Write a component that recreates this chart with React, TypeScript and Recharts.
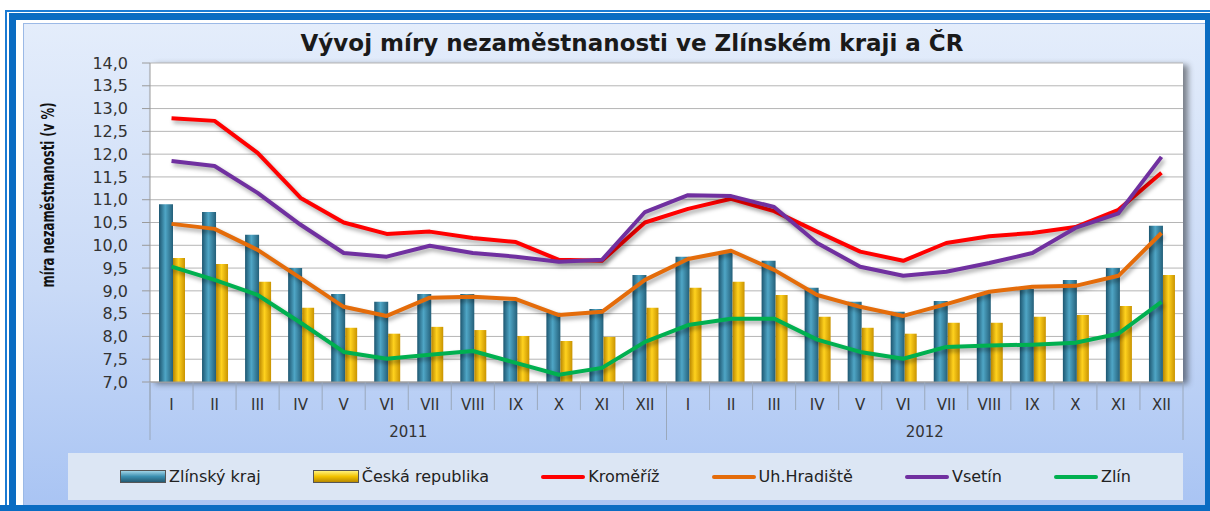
import React from "react";
import {
  ComposedChart,
  Bar,
  Line,
  XAxis,
  YAxis,
  CartesianGrid,
} from "recharts";

const months = ["I", "II", "III", "IV", "V", "VI", "VII", "VIII", "IX", "X", "XI", "XII"];
const years = ["2011", "2012"];
const yTicks = [7.0, 7.5, 8.0, 8.5, 9.0, 9.5, 10.0, 10.5, 11.0, 11.5, 12.0, 12.5, 13.0, 13.5, 14.0];

const zlinskyKraj = [
  10.9, 10.73, 10.23, 9.5, 8.93, 8.76, 8.93, 8.93, 8.78, 8.52, 8.6, 9.35,
  9.75, 9.83, 9.66, 9.07, 8.76, 8.54, 8.78, 8.95, 9.04, 9.24, 9.5, 10.43,
];
const ceskaRepublika = [
  9.72, 9.59, 9.2, 8.63, 8.19, 8.06, 8.21, 8.14, 8.01, 7.9, 7.99, 8.63,
  9.07, 9.2, 8.91, 8.43, 8.19, 8.06, 8.3, 8.3, 8.43, 8.47, 8.67, 9.35,
];
const kromeriz = [
  12.79, 12.73, 12.03, 11.04, 10.5, 10.25, 10.3, 10.16, 10.07, 9.68, 9.66, 10.5,
  10.8, 11.02, 10.75, 10.3, 9.86, 9.66, 10.05, 10.2, 10.27, 10.4, 10.78, 11.59,
];
const uhHradiste = [
  10.47, 10.36, 9.9, 9.28, 8.65, 8.45, 8.85, 8.87, 8.82, 8.47, 8.54, 9.24,
  9.7, 9.88, 9.46, 8.91, 8.65, 8.45, 8.71, 8.98, 9.09, 9.11, 9.33, 10.27,
];
const vsetin = [
  11.85, 11.74, 11.15, 10.45, 9.83, 9.75, 9.99, 9.83, 9.75, 9.64, 9.68, 10.73,
  11.1, 11.08, 10.84, 10.05, 9.53, 9.33, 9.42, 9.61, 9.83, 10.38, 10.7, 11.94,
];
const zlin = [
  9.53, 9.24, 8.91, 8.3, 7.66, 7.51, 7.6, 7.68, 7.42, 7.16, 7.31, 7.88,
  8.25, 8.39, 8.39, 7.93, 7.66, 7.51, 7.77, 7.8, 7.82, 7.86, 8.06, 8.76,
];

const data = years.flatMap((year, yi) =>
  months.map((month, mi) => {
    const i = yi * 12 + mi;
    return {
      key: `${year}-${month}`,
      month,
      year,
      zk: zlinskyKraj[i],
      cr: ceskaRepublika[i],
      km: kromeriz[i],
      uh: uhHradiste[i],
      vs: vsetin[i],
      zl: zlin[i],
    };
  })
);

const PLOT_LEFT = 150;
const PLOT_TOP = 63;
const PLOT_W = 1033;
const PLOT_H = 319;
const BAND = PLOT_W / 24;
const FONT = "'DejaVu Sans', Verdana, sans-serif";

const MonthTick = (props: any) => {
  const { x, y, payload, index } = props;
  return (
    <g>
      <line x1={x - BAND / 2} y1={y} x2={x - BAND / 2} y2={y + 28} stroke="#9aa8bb" />
      {index === 23 && (
        <line x1={x + BAND / 2} y1={y} x2={x + BAND / 2} y2={y + 58} stroke="#9aa8bb" />
      )}
      <text x={x} y={y + 28} textAnchor="middle" fontSize={15} fill="#333" fontFamily={FONT}>
        {payload.value}
      </text>
    </g>
  );
};

const YearTick = (props: any) => {
  const { x, y, payload } = props;
  const half = PLOT_W / 4;
  return (
    <g>
      <line x1={x - half} y1={y - 30} x2={x - half} y2={y + 28} stroke="#9aa8bb" />
      <text x={x} y={y + 25} textAnchor="middle" fontSize={15} fill="#333" fontFamily={FONT}>
        {payload.value}
      </text>
    </g>
  );
};

const legendItems = [
  { label: "Zlínský kraj", type: "bar", grad: "linear-gradient(#9fd3e6, #3b8fb0 50%, #245a72)" },
  { label: "Česká republika", type: "bar", grad: "linear-gradient(#fff27a, #f2c200 50%, #b88a00)" },
  { label: "Kroměříž", type: "line", color: "#ff0000" },
  { label: "Uh.Hradiště", type: "line", color: "#e46c0a" },
  { label: "Vsetín", type: "line", color: "#7030a0" },
  { label: "Zlín", type: "line", color: "#00b050" },
];

export default function App() {
  return (
    <div style={{ position: "absolute", left: 0, top: 0, width: 1210, height: 511, background: "#fff", overflow: "hidden" }}>
      <style>{`.recharts-line-curve { filter: drop-shadow(2px 3px 2px rgba(0,0,0,0.35)); }`}</style>
      {/* frame */}
      <div style={{ position: "absolute", left: 5, top: 10, width: 1210, height: 510, borderTop: "2px solid #1b7bd3", borderLeft: "2px solid #1b7bd3" }} />
      <div style={{ position: "absolute", left: 9, top: 13, width: 1210, height: 510, borderTop: "7px solid #0a6cc2", borderLeft: "7px solid #0a6cc2" }} />
      <div
        style={{
          position: "absolute",
          left: 23,
          top: 23,
          width: 1181,
          height: 481,
          border: "1px solid #9bb9e6",
          background: "linear-gradient(#e4edfb, #c9daf7 55%, #a9c4f3)",
        }}
      />
      <div style={{ position: "absolute", left: 0, top: 505, width: 1210, height: 6, background: "#0a6cc2" }} />
      <div style={{ position: "absolute", left: 1205, top: 20, width: 5, height: 491, background: "#0a6cc2" }} />
      {/* plot background */}
      <div
        style={{
          position: "absolute",
          left: PLOT_LEFT,
          top: PLOT_TOP,
          width: PLOT_W,
          height: PLOT_H,
          background: "#fff",
          boxShadow: "5px 2px 6px rgba(0,0,0,0.45)",
        }}
      />
      {/* title */}
      <div
        style={{
          position: "absolute",
          left: 0,
          width: 1264,
          top: 30,
          textAlign: "center",
          fontFamily: FONT,
          fontWeight: "bold",
          fontSize: 23,
          color: "#1a1a1a",
        }}
      >
        Vývoj míry nezaměstnanosti ve Zlínském kraji a ČR
      </div>
      {/* y axis title */}
      <svg style={{ position: "absolute", left: 20, top: 65, width: 60, height: 260, overflow: "visible" }}>
        <text
          transform="translate(34,130) rotate(-90)"
          textAnchor="middle"
          textLength={185}
          lengthAdjust="spacingAndGlyphs"
          fontFamily={FONT}
          fontWeight="bold"
          fontSize={17}
          fill="#111"
        >
          míra nezaměstnanosti (v %)
        </text>
      </svg>
      <div style={{ position: "absolute", left: 0, top: 0 }}>
        <ComposedChart
          width={1210}
          height={511}
          data={data}
          margin={{ top: PLOT_TOP, right: 1210 - PLOT_LEFT - PLOT_W, left: PLOT_LEFT - 60, bottom: 71 }}
          barGap={0}
        >
          <defs>
            <linearGradient id="gTeal" x1="0" y1="0" x2="1" y2="0">
              <stop offset="0%" stopColor="#1d5670" />
              <stop offset="45%" stopColor="#4fa6c6" />
              <stop offset="100%" stopColor="#245f79" />
            </linearGradient>
            <linearGradient id="gYellow" x1="0" y1="0" x2="1" y2="0">
              <stop offset="0%" stopColor="#b88500" />
              <stop offset="45%" stopColor="#ffd21e" />
              <stop offset="100%" stopColor="#c99300" />
            </linearGradient>
          </defs>
          <CartesianGrid vertical={false} stroke="#b5b5b5" />
          <XAxis
            dataKey="key"
            xAxisId={0}
            height={30}
            tickSize={0}
            tickMargin={0}
            interval={0}
            axisLine={{ stroke: "#9a9a9a" }}
            tickLine={false}
            tick={(p: any) => <MonthTick {...p} payload={{ ...p.payload, value: data[p.index]?.month }} />}
          />
          <XAxis
            dataKey="year"
            xAxisId="year"
            allowDuplicatedCategory={false}
            height={28}
            tickSize={0}
            tickMargin={0}
            interval={0}
            axisLine={false}
            tickLine={false}
            tick={<YearTick />}
          />
          <YAxis
            width={60}
            domain={[7, 14]}
            ticks={yTicks}
            interval={0}
            tickSize={8}
            tickMargin={14}
            axisLine={{ stroke: "#9a9a9a" }}
            tickLine={{ stroke: "#9a9a9a" }}
            tick={{ fontSize: 16, fill: "#333", fontFamily: FONT }}
            tickFormatter={(v: number) => v.toFixed(1).replace(".", ",")}
          />
          <Bar dataKey="zk" name="Zlínský kraj" barSize={14} fill="url(#gTeal)" isAnimationActive={false} />
          <Bar dataKey="cr" name="Česká republika" barSize={12} fill="url(#gYellow)" isAnimationActive={false} />
          <Line type="linear" dataKey="km" name="Kroměříž" stroke="#ff0000" strokeWidth={4} strokeLinejoin="round" dot={false} isAnimationActive={false} />
          <Line type="linear" dataKey="uh" name="Uh.Hradiště" stroke="#e46c0a" strokeWidth={4} strokeLinejoin="round" dot={false} isAnimationActive={false} />
          <Line type="linear" dataKey="vs" name="Vsetín" stroke="#7030a0" strokeWidth={4} strokeLinejoin="round" dot={false} isAnimationActive={false} />
          <Line type="linear" dataKey="zl" name="Zlín" stroke="#00b050" strokeWidth={4} strokeLinejoin="round" dot={false} isAnimationActive={false} />
        </ComposedChart>
      </div>
      {/* legend */}
      <div
        style={{
          position: "absolute",
          left: 68,
          top: 453,
          width: 1115,
          height: 47,
          background: "#dce6f4",
          display: "flex",
          alignItems: "center",
          justifyContent: "space-evenly",
          fontFamily: FONT,
          fontSize: 16,
          color: "#222",
        }}
      >
        {legendItems.map((it) => (
          <div key={it.label} style={{ display: "flex", alignItems: "center" }}>
            {it.type === "bar" ? (
              <span style={{ display: "inline-block", width: 44, height: 11, background: it.grad, border: "1px solid #555" }} />
            ) : (
              <span style={{ display: "inline-block", width: 44, height: 4, background: it.color, borderRadius: 2 }} />
            )}
            <span style={{ marginLeft: 3 }}>{it.label}</span>
          </div>
        ))}
      </div>
    </div>
  );
}
